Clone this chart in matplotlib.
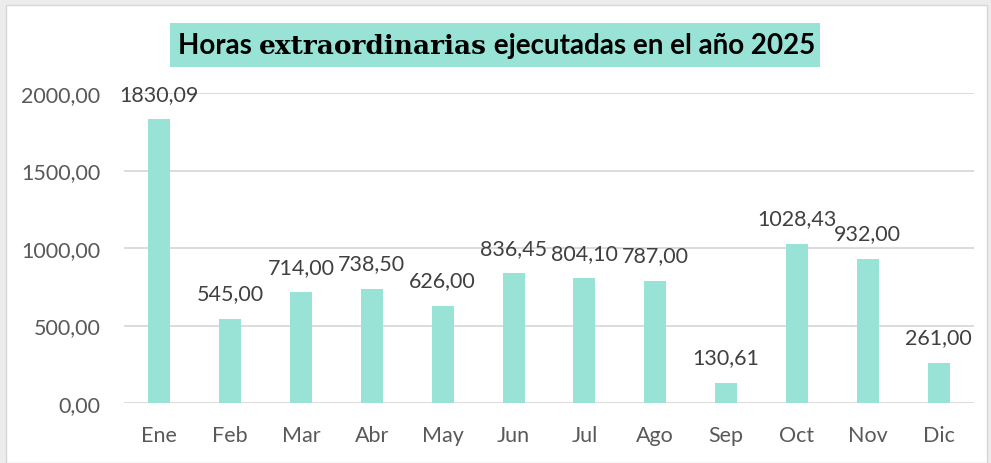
import matplotlib
matplotlib.use("Agg")
import matplotlib.pyplot as plt
import matplotlib.patches as mpatches
from matplotlib.ticker import FuncFormatter

months = ["Ene", "Feb", "Mar", "Abr", "May", "Jun", "Jul", "Ago", "Sep", "Oct", "Nov", "Dic"]
hours = [1830.09, 545.00, 714.00, 738.50, 626.00, 836.45, 804.10, 787.00, 130.61, 1028.43, 932.00, 261.00]
y_ticks = [0, 500, 1000, 1500, 2000]

BAR = "#98e3d5"
GRID = "#d9d9d9"
TXT = "#595959"
LBL = "#404040"
FONT = "Lato"


def fmt(v):
    return f"{v:.2f}".replace(".", ",")


fig = plt.figure(figsize=(9.91, 4.64), dpi=100)
fig.patch.set_facecolor("#ececec")

# white chart area
fig.patches.append(mpatches.Rectangle((6 / 991, 0), 981 / 991, 458 / 464,
                                      transform=fig.transFigure, facecolor="white",
                                      edgecolor="#d6d6d6", linewidth=1.0, zorder=-5))

ax = fig.add_axes([124 / 991, 60 / 464, 850 / 991, 310 / 464])
ax.set_facecolor("none")
ax.set_zorder(3)

x = range(len(months))
ax.bar(x, hours, width=0.31, color=BAR, zorder=3)
for i, v in enumerate(hours):
    ax.annotate(fmt(v), (i, v), xytext=(0, 14), textcoords="offset points",
                ha="center", va="baseline", fontsize=15.5, color=LBL, family=FONT)

ax.set_xlim(-0.5, len(months) - 0.5)
ax.set_ylim(0, 2000)
ax.set_yticks(y_ticks)
ax.yaxis.set_major_formatter(FuncFormatter(lambda v, p: fmt(v)))
ax.set_xticks(list(x))
ax.set_xticklabels(months)
ax.grid(axis="y", color=GRID, linewidth=1.3, zorder=0)
for s in ax.spines.values():
    s.set_visible(False)
ax.tick_params(length=0, labelsize=15.5, labelcolor=TXT)
for t in ax.get_xticklabels() + ax.get_yticklabels():
    t.set_family(FONT)
ax.tick_params(axis="x", pad=16)
ax.tick_params(axis="y", pad=17)

# title box
fig.patches.append(mpatches.Rectangle((170 / 991, 1 - 68 / 464), 650 / 991, 44 / 464,
                                      transform=fig.transFigure, facecolor=BAR,
                                      edgecolor="none", zorder=1))
ty = 1 - 46 / 464
t1 = fig.text(178 / 991, ty, "Horas ", fontsize=20, fontweight="bold",
              family=FONT, va="center", ha="left", color="black")
t2 = fig.text(0, ty, "extraordinarias", fontsize=19, fontweight="bold",
              family="DejaVu Serif", va="center", ha="left", color="black")
t3 = fig.text(0, ty, " ejecutadas en el año 2025", fontsize=20, fontweight="bold",
              family=FONT, va="center", ha="left", color="black")
fig.canvas.draw()
r = fig.canvas.get_renderer()
inv = fig.transFigure.inverted()
bb1 = t1.get_window_extent(r)
t2.set_position((inv.transform((bb1.x1, 0))[0], ty))
bb2 = t2.get_window_extent(r)
t3.set_position((inv.transform((bb2.x1, 0))[0], ty))

fig.savefig("out.png", dpi=100, facecolor=fig.get_facecolor())
